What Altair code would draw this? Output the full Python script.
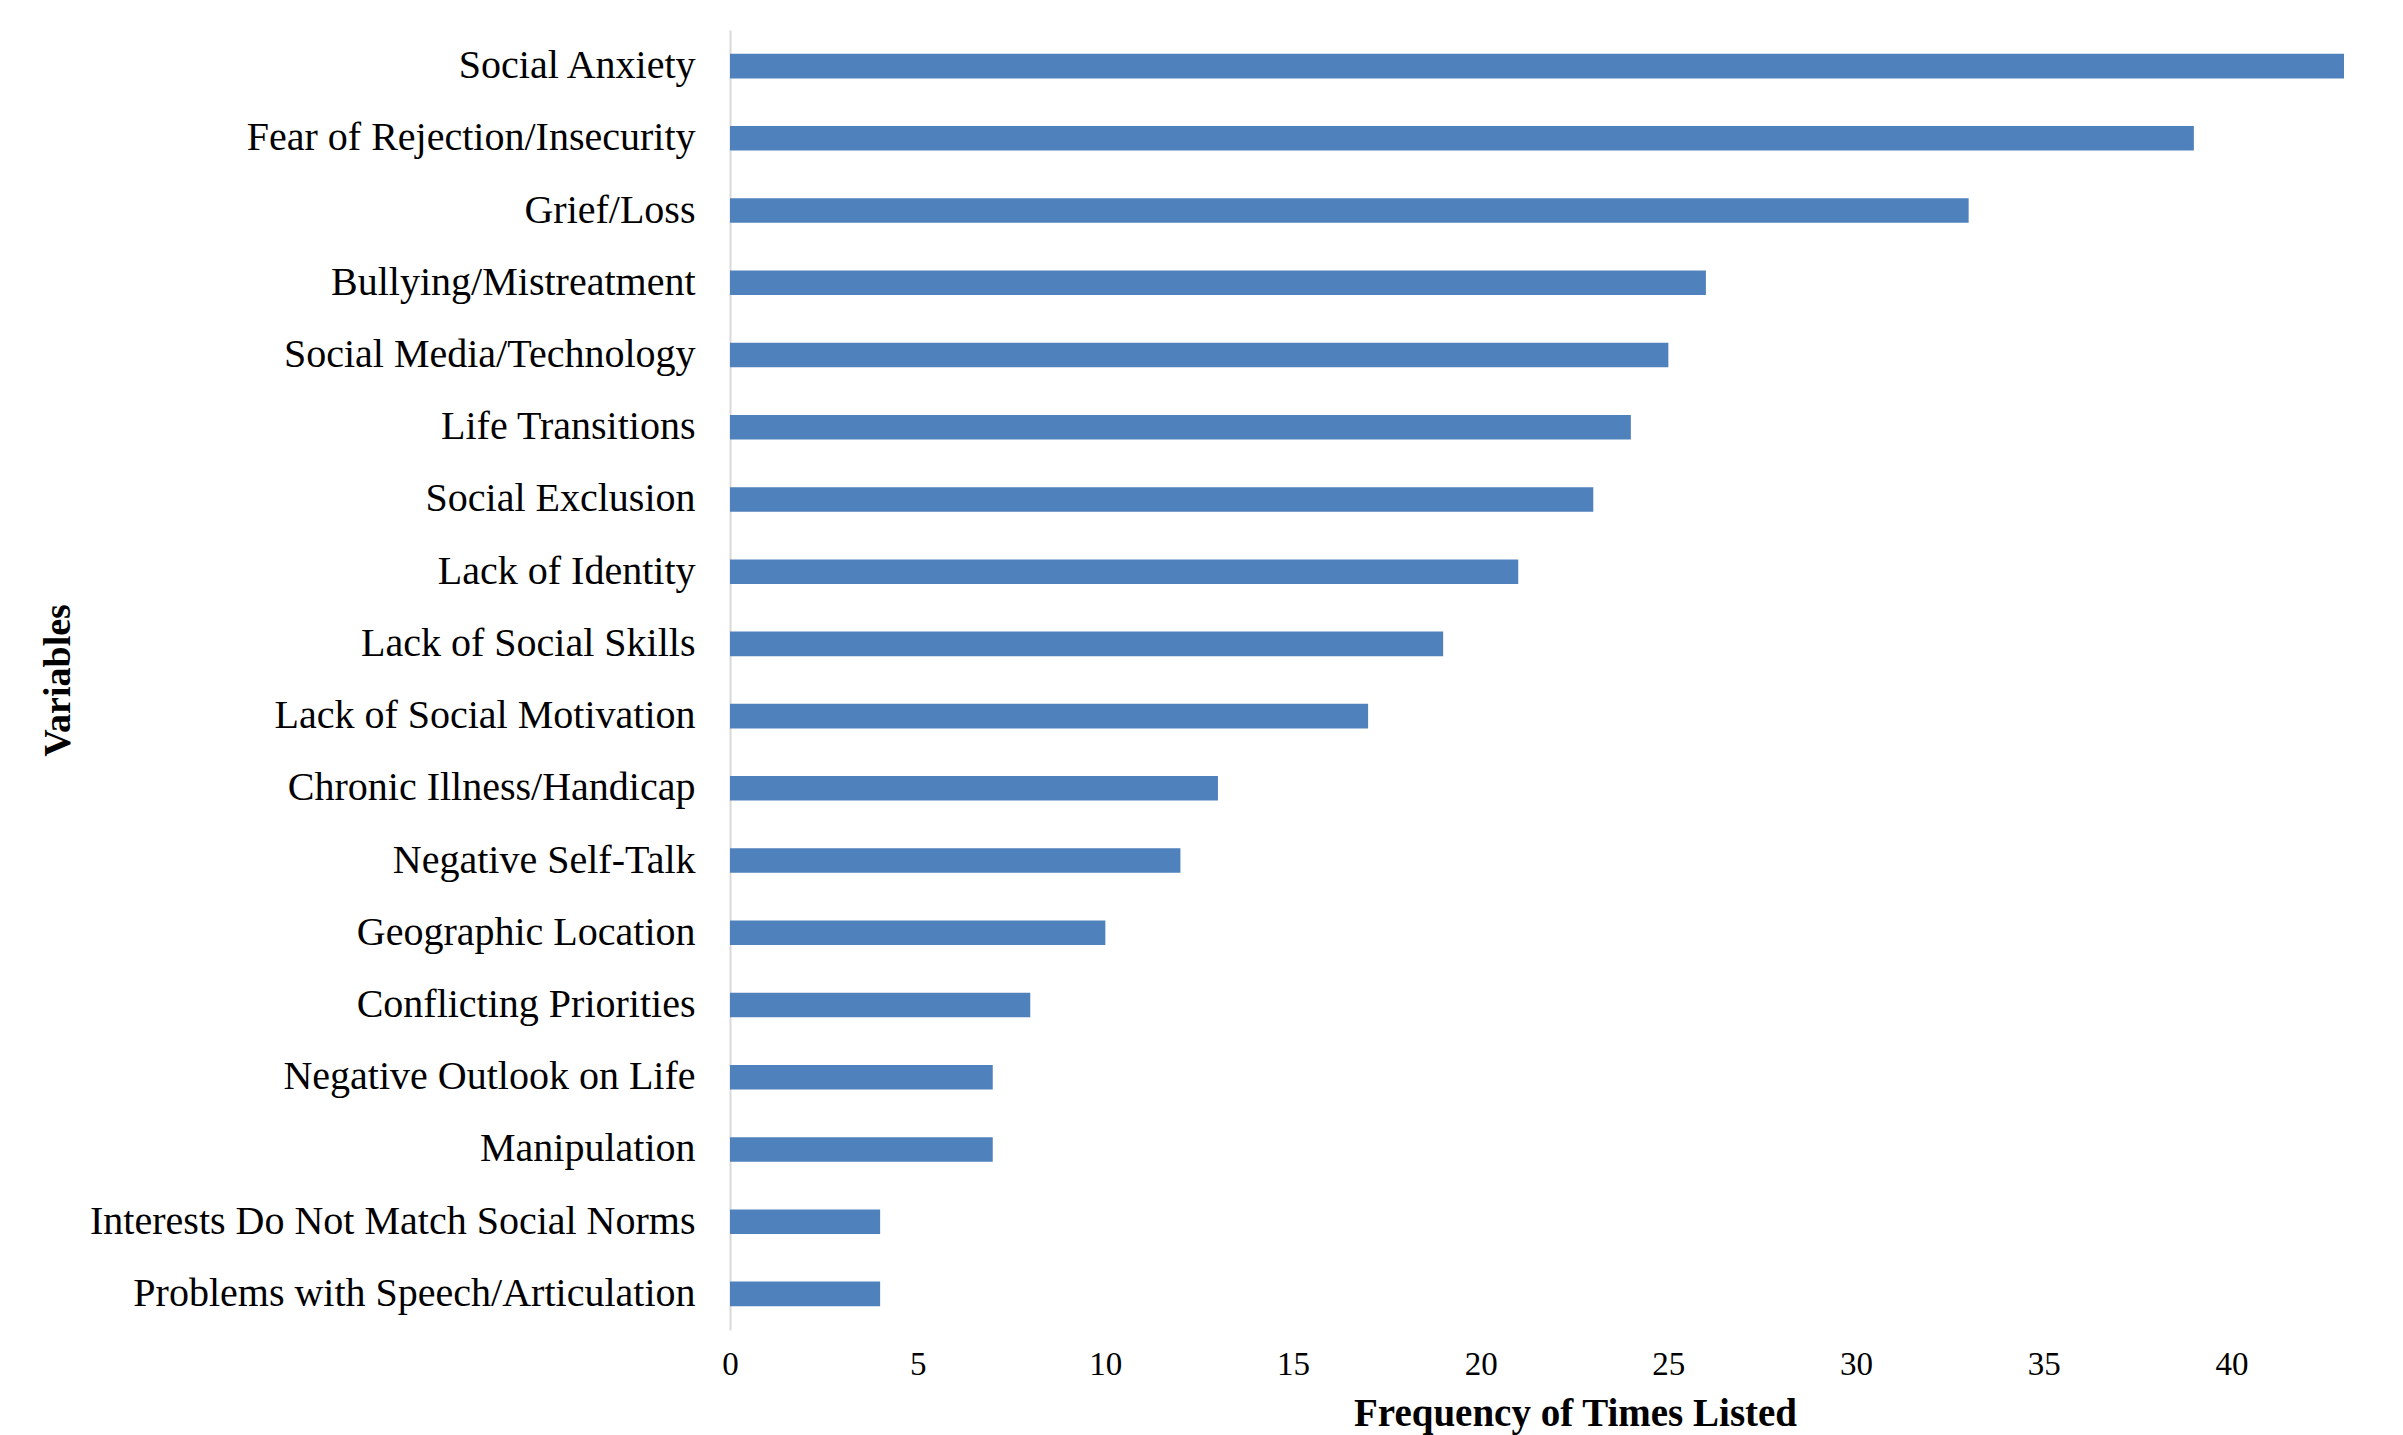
import altair as alt
import pandas as pd

categories = [
    "Social Anxiety",
    "Fear of Rejection/Insecurity",
    "Grief/Loss",
    "Bullying/Mistreatment",
    "Social Media/Technology",
    "Life Transitions",
    "Social Exclusion",
    "Lack of Identity",
    "Lack of Social Skills",
    "Lack of Social Motivation",
    "Chronic Illness/Handicap",
    "Negative Self-Talk",
    "Geographic Location",
    "Conflicting Priorities",
    "Negative Outlook on Life",
    "Manipulation",
    "Interests Do Not Match Social Norms",
    "Problems with Speech/Articulation",
]
values = [43, 39, 33, 26, 25, 24, 23, 21, 19, 17, 13, 12, 10, 8, 7, 7, 4, 4]
x_ticks = [0, 5, 10, 15, 20, 25, 30, 35, 40]

df = pd.DataFrame({"Variable": categories, "Frequency": values})

FONT = "Liberation Serif"

chart = (
    alt.Chart(df)
    .mark_bar(color="#4F81BD")
    .encode(
        x=alt.X(
            "Frequency:Q",
            scale=alt.Scale(domain=[0, 43], nice=False, zero=True),
            axis=alt.Axis(
                title="Frequency of Times Listed",
                values=x_ticks,
                grid=False,
                domain=False,
                ticks=False,
                labelFont=FONT,
                labelFontSize=33,
                labelColor="#000000",
                labelPadding=18,
                labelFlush=False,
                titleFont=FONT,
                titleFontSize=39,
                titleFontWeight="bold",
                titleColor="#000000",
                titleX=845,
                titleY=83,
                titleBaseline="middle",
                titleAlign="center",
            ),
        ),
        y=alt.Y(
            "Variable:N",
            sort=categories,
            scale=alt.Scale(paddingInner=0.66, paddingOuter=0.33),
            axis=alt.Axis(
                title="Variables",
                grid=False,
                ticks=False,
                domain=True,
                domainColor="#D9D9D9",
                domainWidth=2,
                labelFont=FONT,
                labelFontSize=40,
                labelColor="#000000",
                labelPadding=35,
                labelLimit=0,
                titleFont=FONT,
                titleFontSize=38,
                titleFontWeight="bold",
                titleColor="#000000",
                titleX=-672,
                titleY=650,
                titleAlign="center",
                titleBaseline="middle",
            ),
        ),
    )
    .properties(
        width=1614,
        height=1300,
        background="white",
        autosize=alt.AutoSizeParams(type="none"),
        padding={"left": 730, "top": 30, "right": 59, "bottom": 105},
    )
    .configure_view(strokeWidth=0, stroke="transparent")
)

chart.save("out.html", embed_options={"renderer": "svg", "actions": False})
